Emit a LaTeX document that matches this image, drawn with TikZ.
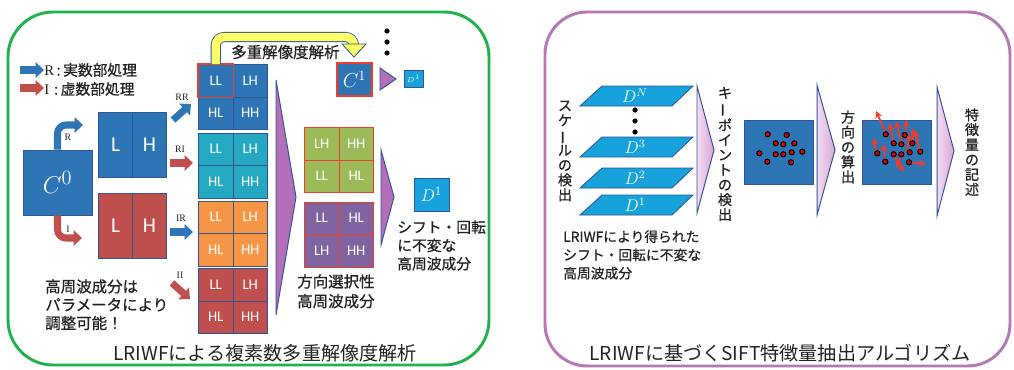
\documentclass[tikz,border=0pt]{standalone}
\usepackage{fontspec}
\usepackage{graphicx}
\setmainfont{Noto Sans CJK JP}
\newfontfamily\jpb{Noto Sans CJK JP}[FakeBold=0.7]
\newfontfamily\calfont{Carlito}
\newfontfamily\serfont{Liberation Serif}
\usetikzlibrary{arrows.meta}
\definecolor{obl}{HTML}{2E75B6}
\definecolor{ocy}{HTML}{25A8C2}
\definecolor{oor}{HTML}{F79646}
\definecolor{ored}{HTML}{C0504D}
\definecolor{ogr}{HTML}{9BBB59}
\definecolor{opu}{HTML}{8064A2}
\definecolor{edgec}{HTML}{2F5597}
\definecolor{lbl}{HTML}{17A2DC}
\definecolor{trip}{HTML}{B36FB8}
\definecolor{pinkA}{HTML}{F3DDF1}
\definecolor{pinkB}{HTML}{D9A5D6}
\definecolor{gframe}{HTML}{22B14C}
\definecolor{pframe}{HTML}{B478B4}
\definecolor{txt}{HTML}{222222}
\definecolor{yel}{HTML}{FFFF66}
\definecolor{redline}{HTML}{F03C28}
\newcommand\vlong{\rotatebox[origin=c]{90}{ー}}
\newcommand\qblock[9]{%
  \node[cellbox, fill=#4, draw=#5] (#1a) at (#2,#3) {#6};
  \node[cellbox, fill=#4, draw=#5] (#1b) at (#2+34.5,#3) {#7};
  \node[cellbox, fill=#4, draw=#5] (#1c) at (#2,#3+32.5) {#8};
  \node[cellbox, fill=#4, draw=#5] (#1d) at (#2+34.5,#3+32.5) {#9};}
\tikzset{
  cellbox/.style={anchor=north west, minimum width=34.5*0.025cm, minimum height=32.5*0.025cm,
    inner sep=0pt, text=white, line width=0.7pt, font=\calfont\fontsize{10.5}{12}\selectfont},
  halfbox/.style={anchor=north west, minimum width=34*0.025cm, minimum height=65*0.025cm,
    inner sep=0pt, text=white, draw=edgec, line width=0.7pt, font=\calfont\fontsize{15}{16}\selectfont},
  barrow/.style={obl, line width=5pt, -{Triangle[length=6pt,width=11pt]}},
  rarrow/.style={ored, line width=5pt, -{Triangle[length=6pt,width=11pt]}},
  jtext/.style={text=txt, align=left, font=\jpb\fontsize{10.5}{13}\selectfont},
  vtext/.style={text=txt, align=center, inner sep=0pt, font=\jpb\fontsize{10}{10.6}\selectfont},
  small/.style={text=txt, inner sep=0pt, font=\serfont\fontsize{7}{8}\selectfont},
  bigtri/.style={fill=trip, draw=edgec, line width=0.7pt},
  pinktri/.style={left color=pinkA, right color=pinkB, draw=edgec, line width=0.7pt},
  para/.style={fill=lbl, draw=edgec, line width=0.6pt},
  kp/.style={draw=black, fill=red!85!black, line width=0.7pt},
  orient/.style={redline, line width=1.3pt, -{Stealth[length=5pt,width=5pt]}},
  title/.style={text=txt, font=\fontsize{13.6}{15}\selectfont}
}
\begin{document}
\begin{tikzpicture}[x=0.025cm,y=-0.025cm]
\useasboundingbox (0,0) rectangle (1014,369);
% frames
\draw[gframe, line width=2.1pt, rounded corners=32pt] (8,12) rectangle (489,365);
\draw[pframe, line width=2.1pt, rounded corners=30pt] (545,12) rectangle (1010,366);

% ---------- left panel ----------
% legend
\draw[barrow] (20,70) -- (44,70);
\draw[rarrow] (20,88) -- (44,88);
\node[anchor=west, inner sep=0pt, text=txt, font=\jpb\fontsize{10.5}{12}\selectfont] (legR) at (44,70) {{\serfont R}\,:\,実数部処理};
\node[anchor=west, inner sep=0pt, text=txt, font=\jpb\fontsize{10.5}{12}\selectfont] (legI) at (44,89) {{\serfont I}\,\,:\,虚数部処理};

% C0
\node[fill=obl, draw=edgec, line width=0.7pt, minimum width=69*0.025cm, minimum height=65*0.025cm, inner sep=0pt,
  text=white, font=\fontsize{19}{20}\selectfont] (C0) at (57.5,182.5) {$C^0$};
\draw[barrow, rounded corners=6pt] (C0.north) -- (57.5,125) -- (83,125);
\draw[rarrow, rounded corners=6pt] (C0.south) -- (57.5,238) -- (82,238);
\node[small] (lR) at (68,137) {R};
\node[small] (lI) at (68,229) {I};

% L H boxes
\node[halfbox, fill=obl] (bL) at (98,112) {L};
\node[halfbox, fill=obl] (bH) at (132,112) {H};
\node[halfbox, fill=ored] (rL) at (98,193) {L};
\node[halfbox, fill=ored] (rH) at (132,193) {H};

% small arrows
\coordinate (rr1) at (173,120); \coordinate (rr2) at (191,104);
\coordinate (ri1) at (170,163); \coordinate (ri2) at (193,163);
\coordinate (ir1) at (170,232); \coordinate (ir2) at (193,232);
\coordinate (ii1) at (172,283); \coordinate (ii2) at (190,299);
\draw[barrow] (rr1) -- (rr2);
\draw[rarrow] (ri1) -- (ri2);
\draw[barrow] (ir1) -- (ir2);
\draw[rarrow] (ii1) -- (ii2);
\node[small] (lRR) at (182,97) {RR};
\node[small] (lRI) at (180,149) {RI};
\node[small] (lIR) at (181,218) {IR};
\node[small] (lII) at (180,275) {II};

% 2x2 blocks
\qblock{bb}{198}{64}{obl}{edgec}{LL}{LH}{HL}{HH}
\qblock{cb}{198}{132.5}{ocy}{edgec}{LL}{LH}{HL}{HH}
\qblock{ob}{198}{200.5}{oor}{edgec}{LL}{LH}{HL}{HH}
\qblock{rb}{198}{268}{ored}{edgec}{LL}{LH}{HL}{HH}
\draw[redline, line width=1.1pt] (bba.north west) rectangle (bba.south east);

% big triangle
\draw[bigtri] (276,80) -- (296,197) -- (276,315) -- cycle;

% green / purple blocks
\qblock{gb}{304}{127}{ogr}{redline}{LH}{HH}{LL}{HL}
\qblock{pb}{304}{201.5}{opu}{redline}{LL}{HL}{LH}{HH}

% second triangle
\draw[bigtri] (381,150) -- (394,197) -- (381,245) -- cycle;

% D1
\node[fill=lbl, draw=edgec, line width=0.7pt, minimum width=35*0.025cm, minimum height=33*0.025cm, inner sep=0pt,
  text=white, font=\fontsize{13}{14}\selectfont] (D1) at (431.5,194.5) {$D^1$};

% yellow arrow
\coordinate (yend) at (354,45);
\draw[draw=edgec, double=yel, double distance=6pt, line width=0.6pt, rounded corners=6pt]
  (bba.north) |- (354,37) -- (yend);
\draw[fill=yel, draw=edgec, line width=0.6pt] (342,44) -- (366,44) -- (354,57) -- cycle;
\node[anchor=west, inner sep=0pt, text=txt, font=\jpb\fontsize{11}{12}\selectfont] (multi) at (231,52) {多重解像度解析};

% dots
\fill (387,31) circle (2.6);
\fill (387,42) circle (2.6);
\fill (387,53) circle (2.6);

% C1 and small D1
\node[fill=obl, draw=redline, line width=1.1pt, minimum width=35*0.025cm, minimum height=33*0.025cm, inner sep=0pt,
  text=white, font=\fontsize{14}{15}\selectfont] (C1) at (354.5,79.5) {$C^1$};
\draw[bigtri] (380,68) -- (396,79) -- (380,90) -- cycle;
\node[fill=lbl, draw=edgec, line width=0.6pt, minimum width=19*0.025cm, minimum height=17*0.025cm, inner sep=0pt,
  text=white, font=\fontsize{5}{6}\selectfont] (D1s) at (413.5,78.5) {$D^1$};

% texts
\node[jtext, anchor=north west, inner sep=0pt] (shift) at (397,220) {シフト・回転\\に不変な\\高周波成分};
\node[jtext, anchor=north west, inner sep=0pt, font=\jpb\fontsize{11}{14}\selectfont] (dirsel) at (297,274) {方向選択性\\高周波成分};
\node[jtext, anchor=north west, inner sep=0pt, font=\jpb\fontsize{11}{13}\selectfont] (param) at (45,279) {高周波成分は\\パラメータにより\\調整可能！};
\node[title] (ltitle) at (265,353) {LRIWFによる複素数多重解像度解析};

% ---------- right panel ----------
\draw[para] (602,86) -- (693,86) -- (672,106) -- (580,106) -- cycle;
\draw[para] (602,137) -- (693,137) -- (672,157) -- (580,157) -- cycle;
\draw[para] (602,168) -- (693,168) -- (672,188) -- (580,188) -- cycle;
\draw[para] (602,195) -- (693,195) -- (672,215) -- (580,215) -- cycle;
\node[text=white, font=\fontsize{12}{13}\selectfont, inner sep=0pt] (DN) at (635,96) {$D^N$};
\node[text=white, font=\fontsize{12}{13}\selectfont, inner sep=0pt] (D3r) at (635,147) {$D^3$};
\node[text=white, font=\fontsize{12}{13}\selectfont, inner sep=0pt] (D2r) at (635,178) {$D^2$};
\node[text=white, font=\fontsize{12}{13}\selectfont, inner sep=0pt] (D1r) at (635,205) {$D^1$};
\fill (635,110) circle (2.6);
\fill (635,121) circle (2.6);
\fill (635,132) circle (2.6);

\node[vtext] (scale) at (565,151) {ス\\ケ\\\vlong\\ル\\の\\検\\出};
\node[jtext, anchor=north west, inner sep=0pt, font=\jpb\fontsize{9.8}{13}\selectfont] (lriw) at (563,230) {LRIWFにより得られた\\シフト・回転に不変な\\高周波成分};

\draw[pinktri] (697,86) -- (714,150) -- (697,213) -- cycle;
\node[vtext] (kpd) at (725,154) {キ\\\vlong\\ポ\\イ\\ン\\ト\\の\\検\\出};

\node[fill=obl, draw=edgec, line width=0.6pt, minimum width=69*0.025cm, minimum height=64*0.025cm, inner sep=0pt] (K1) at (778.5,152) {};
\foreach \dx/\dy in {23.7/14.3,42.7/15,31.7/23.3,39.3/24.3,50.3/23.3,15.3/33.3,31.7/34.3,39.3/34.3,47.7/32.3,58.3/31.7,23.3/41.7,47/42.3}
  \draw[kp] (744+\dx,120+\dy) circle (2.6);

\draw[pinktri] (817,85) -- (835,150) -- (817,215) -- cycle;
\node[vtext] (ori) at (848,147) {方\\向\\の\\算\\出};

\node[fill=obl, draw=edgec, line width=0.6pt, minimum width=69*0.025cm, minimum height=64*0.025cm, inner sep=0pt] (K2) at (896.5,152) {};
\draw[orient] (886.7,135) -- (876,111);
\draw[orient] (893.3,143.3) -- (889.5,123);
\draw[orient] (901.7,143.3) -- (896,121.5);
\draw[orient] (905,135) -- (906.5,120);
\draw[orient] (911.7,143.3) -- (914,128);
\draw[orient] (876.7,153.3) -- (873.5,138);
\draw[orient] (885,161.7) -- (883.5,144);
\draw[orient] (893.3,154.3) -- (904,172);
\draw[orient] (910,162.3) -- (926,164);
\draw[orient] (920,151.7) -- (915,131);
\draw[orient] (901.7,154.3) -- (896.5,168);
\draw[orient] (907,152) -- (909.5,134);
\foreach \dx/\dy in {23.7/14.3,42.7/15,31.7/23.3,39.3/24.3,50.3/23.3,15.3/33.3,31.7/34.3,39.3/34.3,47.7/32.3,58.3/31.7,23.3/41.7,47/42.3}
  \draw[kp] (862+\dx,120+\dy) circle (2.6);

\draw[pinktri] (937,87) -- (954,151) -- (937,216) -- cycle;
\node[vtext] (desc) at (972,152) {特\\徴\\量\\の\\記\\述};

\node[title] (rtitle) at (780,353) {LRIWFに基づくSIFT特徴量抽出アルゴリズム};
\end{tikzpicture}
\end{document}
